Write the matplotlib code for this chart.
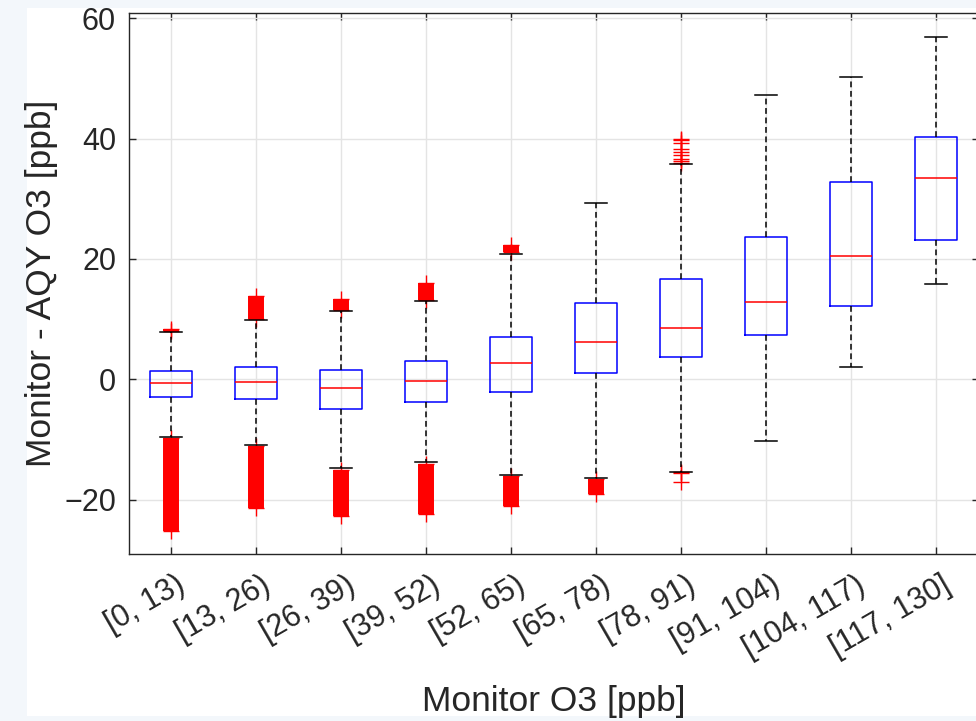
import matplotlib
matplotlib.use("Agg")
import matplotlib.pyplot as plt
from matplotlib.patches import Rectangle
from matplotlib.transforms import ScaledTranslation

plt.rcParams['font.family'] = ['Liberation Sans', 'DejaVu Sans']

categories = ["[0, 13)", "[13, 26)", "[26, 39)", "[39, 52)", "[52, 65)",
              "[65, 78)", "[78, 91)", "[91, 104)", "[104, 117)", "[117, 130]"]
whisker_low = [-9.5, -10.9, -14.8, -13.8, -15.9, -16.4, -15.3, -10.2, 2.1, 15.9]
q1 = [-2.9, -3.2, -5.0, -3.8, -2.1, 1.05, 3.8, 7.4, 12.2, 23.2]
median = [-0.6, -0.5, -1.4, -0.3, 2.7, 6.2, 8.6, 12.8, 20.5, 33.5]
q3 = [1.4, 2.0, 1.5, 3.0, 7.1, 12.7, 16.6, 23.6, 32.8, 40.2]
whisker_high = [7.9, 9.8, 11.4, 13.0, 20.9, 29.3, 35.7, 47.3, 50.2, 56.9]

# dense outlier bands (lowest, highest outlier) per group; None = no band
outlier_band_low = [(-25.1, -9.7), (-21.3, -11.1), (-22.7, -15.0), (-22.4, -14.0),
                    (-21.1, -16.1), (-19.1, -16.6), None, None, None, None]
outlier_band_high = [(8.0, 8.3), (10.0, 13.8), (11.6, 13.4), (13.2, 16.0),
                     (21.1, 22.4), None, None, None, None, None]
# isolated outliers
outlier_points = [[], [], [], [], [], [],
                  [36.0, 36.2, 36.6, 37.3, 37.8, 38.3, 39.3, 39.8, 40.0,
                   -15.4, -15.6, -17.0],
                  [], [], []]

yticks = [-20, 0, 20, 40, 60]

fig = plt.figure(figsize=(9.76, 7.21), dpi=100)
fig.patch.set_facecolor('#f3f7fb')
bg = Rectangle((27 / 976, 1 - 716 / 721), (976 - 27) / 976, (716 - 8) / 721,
               transform=fig.transFigure, facecolor='white',
               edgecolor='none', zorder=-10)
fig.patches.append(bg)

ax = fig.add_axes([128.5 / 976, 1 - 554 / 721, 850 / 976, (554 - 12.7) / 721])
ax.set_zorder(5)
ax.set_facecolor('white')

stats = []
for i, c in enumerate(categories):
    stats.append(dict(label=c, whislo=whisker_low[i], q1=q1[i], med=median[i],
                      q3=q3[i], whishi=whisker_high[i], fliers=[]))
pos = list(range(1, len(categories) + 1))
lw = 1.1
ax.bxp(stats, positions=pos, widths=0.5, showfliers=False, capwidths=0.26,
       boxprops=dict(color='#0000ff', linewidth=lw),
       medianprops=dict(color='#ff0000', linewidth=lw),
       whiskerprops=dict(color='black', linewidth=lw, linestyle=(0, (3.8, 2.4))),
       capprops=dict(color='black', linewidth=lw), zorder=3)

msize = 11.5
for i, p in enumerate(pos):
    for band in (outlier_band_low[i], outlier_band_high[i]):
        if band is None:
            continue
        lo, hi = band
        ax.vlines(p, lo, hi, colors='#ff0000', linewidth=msize * 1.0, zorder=2)
        ax.plot([p, p], [lo, hi], linestyle='none', marker='+', markersize=msize,
                markeredgewidth=1.0, color='#ff0000', zorder=2)
    pts = outlier_points[i]
    if pts:
        ax.plot([p] * len(pts), pts, linestyle='none', marker='+', markersize=msize,
                markeredgewidth=1.0, color='#ff0000', zorder=2)

ax.set_xlim(0.5, 10.5)
ax.set_ylim(-29.0, 60.9)
ax.set_yticks(yticks)
ax.set_xticks(pos)
ax.set_xticklabels([])
label_tr = ax.get_xaxis_transform() + ScaledTranslation(12 / 100, -29 / 100,
                                                        fig.dpi_scale_trans)
for p, c in zip(pos, categories):
    ax.text(p, 0, c, transform=label_tr, rotation=30, ha='right', va='center',
            rotation_mode='anchor', fontsize=22, color='#262626', clip_on=False)
ax.grid(True, color='#e4e4e4', linewidth=1.0, zorder=0)
ax.set_axisbelow(True)
for s in ax.spines.values():
    s.set_color('#262626')
    s.set_linewidth(1.0)
ax.tick_params(direction='in', length=5, width=1.0, color='#262626',
               labelcolor='#262626', labelsize=22, top=True, right=True)
ax.tick_params(axis='y', pad=9)
ax.set_xlabel('Monitor O3 [ppb]', fontsize=25.5, color='#262626')
ax.set_ylabel('Monitor - AQY O3 [ppb]', fontsize=25.5, color='#262626')
ax.xaxis.set_label_coords(0.5, (554 - 702) / 541.3)
ax.xaxis.label.set_va('center')
ax.yaxis.set_label_coords((42 - 128.5) / 850, 0.5)
ax.yaxis.label.set_va('center')

fig.savefig('out.png', dpi=100, facecolor=fig.get_facecolor())
